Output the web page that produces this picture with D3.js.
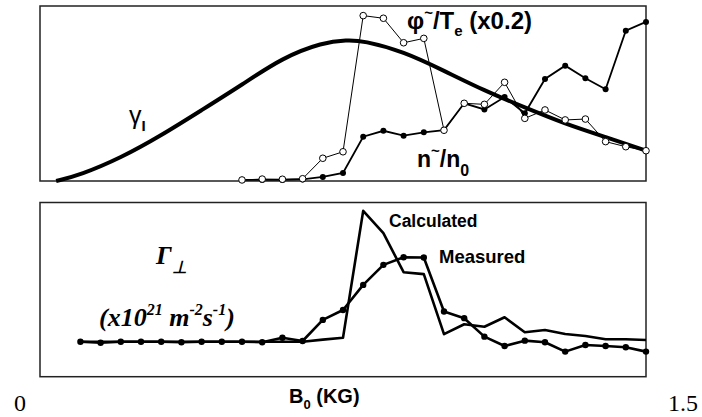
<!DOCTYPE html>
<html>
<head>
<meta charset="utf-8">
<script src="https://cdn.jsdelivr.net/npm/d3@7"></script>
<style>
  body { margin: 0; background: #fff; }
  text { fill: #000; }
</style>
</head>
<body>
<div class="viewbox"></div>
<script>
// B0 field values (kG) for the probe data
const bTop = [0.50, 0.55, 0.60, 0.65, 0.70, 0.75, 0.80, 0.85, 0.90, 0.95, 1.00,
  1.05, 1.10, 1.15, 1.20, 1.25, 1.30, 1.35, 1.40, 1.45, 1.50];
// phi~/Te (x0.2), open circles
const phiTe = [0.6, 1.1, 1.0, 1.3, 13, 16.7, 94.5, 93, 79, 81.5, 29,
  44.4, 43.8, 56.4, 35.8, 40.6, 34.9, 35.4, 22.5, 19.6, 17.3];
// n~/n0, filled circles
const nN0 = [0.6, 0.6, 0.6, 0.9, 2.3, 4.6, 25.3, 28.7, 25.9, 27.8, 29.1,
  44.4, 40.9, 48, 38.7, 58.3, 65.9, 58.7, 52.4, 85.9, 90.9];
// growth rate gamma_I, smooth curve
const bGamma = [0.04, 0.1, 0.2, 0.3, 0.4, 0.5, 0.6, 0.7, 0.76, 0.8, 0.9, 1.0, 1.1, 1.2, 1.3, 1.4, 1.5];
const gammaI = [0, 3.5, 13.2, 26, 40.5, 55, 70.5, 79.2, 80.6, 80.2, 74, 63, 51.6, 42, 32.6, 25.1, 17.4];

// flux, bottom panel
const bBot = [0.10, 0.15, 0.20, 0.25, 0.30, 0.35, 0.40, 0.45, 0.50, 0.55, 0.60, 0.65, 0.70,
  0.75, 0.80, 0.85, 0.90, 0.95, 1.00, 1.05, 1.10, 1.15, 1.20, 1.25, 1.30, 1.35, 1.40, 1.45, 1.50];
const measured = [20.1, 19.5, 20.1, 20.1, 20.1, 19.8, 20.1, 20.1, 20.1, 19.8, 22.4, 20.5, 32.6,
  38.3, 52.7, 64.2, 68.6, 68.4, 37.4, 33.6, 23, 17.6, 20.7, 19.8, 14.4, 18.2, 17.6, 16.9, 14.4];
const calculated = [20.1, 20.1, 20.1, 20.1, 20.1, 20.1, 20.1, 20.1, 20.1, 20.1, 20.1, 20.1, 21.3,
  22.4, 95.2, 82.4, 60, 58.9, 24.4, 30.1, 28.7, 34.1, 25.5, 26.8, 24.5, 23.4, 21.5, 21.5, 21.1];

const xTicks = ["0", "1.5"];

const W = 702, H = 417;
const svg = d3.select(".viewbox").append("svg")
  .attr("width", W).attr("height", H)
  .style("font-family", "Arial, 'Liberation Sans', sans-serif");

svg.append("rect").attr("width", W).attr("height", H).attr("fill", "#fff");

const x = d3.scaleLinear().domain([0, 1.5]).range([40, 646]);
const yTop = d3.scaleLinear().domain([0, 100]).range([181, 6]);
const yBot = d3.scaleLinear().domain([0, 100]).range([376.7, 202.5]);

// panel frames
[yTop, yBot].forEach(ys => {
  svg.append("rect")
    .attr("x", x(0)).attr("y", ys(100))
    .attr("width", x(1.5) - x(0)).attr("height", ys(0) - ys(100))
    .attr("fill", "none").attr("stroke", "#222").attr("stroke-width", 1.5);
});

// ---- top panel ----
const gammaLine = d3.line().x((d, i) => x(bGamma[i])).y(d => yTop(d)).curve(d3.curveBasis);
svg.append("path").datum(gammaI).attr("d", gammaLine)
  .attr("fill", "none").attr("stroke", "#000").attr("stroke-width", 4);

const topLine = d3.line().x((d, i) => x(bTop[i])).y(d => yTop(d));
svg.append("path").datum(nN0).attr("d", topLine)
  .attr("fill", "none").attr("stroke", "#000").attr("stroke-width", 1.8);
svg.selectAll(".ndot").data(nN0).enter().append("circle")
  .attr("class", "ndot")
  .attr("cx", (d, i) => x(bTop[i])).attr("cy", d => yTop(d))
  .attr("r", 3).attr("fill", "#000");

svg.append("path").datum(phiTe).attr("d", topLine)
  .attr("fill", "none").attr("stroke", "#000").attr("stroke-width", 1);
svg.selectAll(".pdot").data(phiTe).enter().append("circle")
  .attr("class", "pdot")
  .attr("cx", (d, i) => x(bTop[i])).attr("cy", d => yTop(d))
  .attr("r", 3.3).attr("fill", "#fff").attr("stroke", "#000").attr("stroke-width", 1);

// labels, top
const g1 = svg.append("text").attr("x", 129).attr("y", 124)
  .style("font-size", "25px");
g1.append("tspan").text("γ");
g1.append("tspan").attr("dy", 7).style("font-size", "15px").style("font-weight", "bold").text("I");

const phi = svg.append("text").attr("x", 407).attr("y", 29)
  .style("font-size", "24px").style("font-weight", "bold");
phi.append("tspan").text("φ");
phi.append("tspan").attr("dy", -11).style("font-size", "15px").text("~");
phi.append("tspan").attr("dy", 11).text("/T");
phi.append("tspan").attr("dy", 7).style("font-size", "15px").text("e");
phi.append("tspan").attr("dy", -7).text(" (x0.2)");

const nn = svg.append("text").attr("x", 417).attr("y", 167)
  .style("font-size", "23px").style("font-weight", "bold");
nn.append("tspan").text("n");
nn.append("tspan").attr("dy", -11).style("font-size", "15px").text("~");
nn.append("tspan").attr("dy", 11).text("/n");
nn.append("tspan").attr("dy", 9).style("font-size", "16px").text("0");

// ---- bottom panel ----
const botLine = d3.line().x((d, i) => x(bBot[i])).y(d => yBot(d));
svg.append("path").datum(calculated).attr("d", botLine)
  .attr("fill", "none").attr("stroke", "#000").attr("stroke-width", 2.6)
  .attr("stroke-linejoin", "round");
svg.append("path").datum(measured).attr("d", botLine)
  .attr("fill", "none").attr("stroke", "#000").attr("stroke-width", 2.6)
  .attr("stroke-linejoin", "round");
svg.selectAll(".mdot").data(measured).enter().append("circle")
  .attr("class", "mdot")
  .attr("cx", (d, i) => x(bBot[i])).attr("cy", d => yBot(d))
  .attr("r", 3.2).attr("fill", "#000");

svg.append("text").attr("x", 389).attr("y", 227)
  .style("font-size", "17.5px").style("font-weight", "bold").text("Calculated");
svg.append("text").attr("x", 439).attr("y", 263)
  .style("font-size", "18.5px").style("font-weight", "bold").text("Measured");

const gam = svg.append("text").attr("x", 156).attr("y", 264)
  .style("font-family", "'Liberation Serif', 'Times New Roman', serif")
  .style("font-style", "italic").style("font-weight", "bold").style("font-size", "26px");
gam.append("tspan").text("Γ");
gam.append("tspan").attr("dy", 9).style("font-size", "17px").text("⊥");

const unit = svg.append("text").attr("x", 99).attr("y", 326)
  .style("font-family", "'Liberation Serif', 'Times New Roman', serif")
  .style("font-style", "italic").style("font-weight", "bold").style("font-size", "26px");
unit.append("tspan").text("(x10");
unit.append("tspan").attr("dy", -11).style("font-size", "16px").text("21");
unit.append("tspan").attr("dy", 11).text(" m");
unit.append("tspan").attr("dy", -11).style("font-size", "16px").text("-2");
unit.append("tspan").attr("dy", 11).text("s");
unit.append("tspan").attr("dy", -11).style("font-size", "16px").text("-1");
unit.append("tspan").attr("dy", 11).text(")");

// x axis title and end labels
const bl = svg.append("text").attr("x", 289).attr("y", 403)
  .style("font-size", "20px").style("font-weight", "bold");
bl.append("tspan").text("B");
bl.append("tspan").attr("dy", 6).style("font-size", "13px").text("0");
bl.append("tspan").attr("dy", -6).text(" (KG)");

svg.selectAll(".xend").data(xTicks).enter().append("text")
  .attr("class", "xend")
  .attr("x", (d, i) => i === 0 ? x(0) - 26 : x(1.5) + 52)
  .attr("y", 411)
  .attr("text-anchor", (d, i) => i === 0 ? "start" : "end")
  .style("font-family", "'Liberation Serif', 'Times New Roman', serif")
  .style("font-size", "24px")
  .text(d => d);
</script>
</body>
</html>
